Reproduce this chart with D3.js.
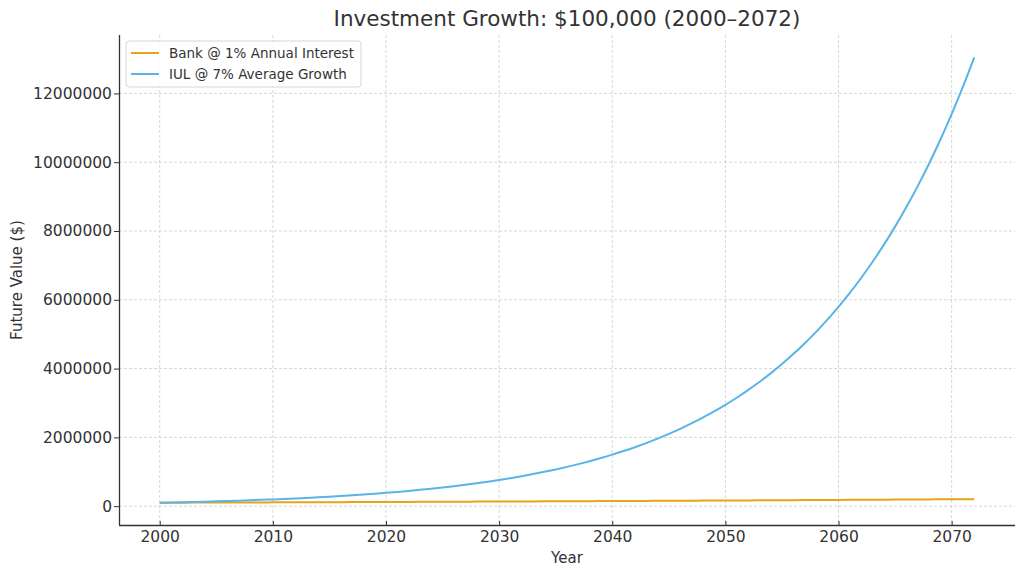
<!DOCTYPE html>
<html>
<head>
<meta charset="utf-8">
<script src="https://cdn.jsdelivr.net/npm/d3@7"></script>
<style>
  html, body { margin: 0; padding: 0; background: #fff; }
  svg { display: block; font-family: "DejaVu Sans", sans-serif; }
  .grid line { stroke: #cccccc; stroke-dasharray: 3,2; stroke-width: 0.8; }
  .axis path, .axis line { stroke: #333; }
</style>
</head>
<body>
<div id="chart"></div>
<script>
const years = [
  2000, 2001, 2002, 2003, 2004, 2005, 2006, 2007, 2008, 2009,
  2010, 2011, 2012, 2013, 2014, 2015, 2016, 2017, 2018, 2019,
  2020, 2021, 2022, 2023, 2024, 2025, 2026, 2027, 2028, 2029,
  2030, 2031, 2032, 2033, 2034, 2035, 2036, 2037, 2038, 2039,
  2040, 2041, 2042, 2043, 2044, 2045, 2046, 2047, 2048, 2049,
  2050, 2051, 2052, 2053, 2054, 2055, 2056, 2057, 2058, 2059,
  2060, 2061, 2062, 2063, 2064, 2065, 2066, 2067, 2068, 2069,
  2070, 2071, 2072
];

// bank account, 1% a year
const bankValues = [
  100000, 101000, 102010, 103030, 104060, 105100, 106150, 107210, 108290, 109370,
  110460, 111570, 112680, 113810, 114950, 116100, 117260, 118430, 119610, 120810,
  122020, 123240, 124470, 125720, 126970, 128240, 129530, 130820, 132130, 133450,
  134780, 136130, 137490, 138870, 140260, 141660, 143080, 144510, 145950, 147410,
  148890, 150380, 151880, 153400, 154930, 156480, 158050, 159630, 161220, 162830,
  164460, 166110, 167770, 169450, 171140, 172850, 174580, 176330, 178090, 179870,
  181670, 183490, 185320, 187170, 189050, 190940, 192850, 194770, 196720, 198690,
  200680, 202680, 204710
];

// IUL, 7% average
const iulValues = [
  100000, 107000, 114490, 122500, 131080, 140260, 150070, 160580, 171820, 183850,
  196720, 210490, 225220, 240980, 257850, 275900, 295220, 315880, 337990, 361650,
  386970, 414060, 443040, 474050, 507240, 542740, 580740, 621390, 664880, 711430,
  761230, 814510, 871530, 932530, 997810, 1067660, 1142390, 1222360, 1307930, 1399480,
  1497450, 1602270, 1714430, 1834440, 1962850, 2100250, 2247260, 2404570, 2572890, 2752990,
  2945700, 3151900, 3372530, 3608610, 3861220, 4131500, 4420710, 4730150, 5061270, 5415550,
  5794640, 6200270, 6634290, 7098690, 7595590, 8127290, 8696200, 9304930, 9956280, 10653220,
  11398940, 12196870, 13050650
];

const series = [
  { name: "Bank @ 1% Annual Interest", values: bankValues, color: "#e8a317" },
  { name: "IUL @ 7% Average Growth", values: iulValues, color: "#5ab4e8" }
];

const xTicks = [2000, 2010, 2020, 2030, 2040, 2050, 2060, 2070];
const yTicks = [0, 2000000, 4000000, 6000000, 8000000, 10000000, 12000000];

const width = 1024;
const height = 577;
const margin = { top: 35, right: 9, bottom: 52, left: 119 };
const innerWidth = width - margin.left - margin.right;
const innerHeight = height - margin.top - margin.bottom;
const tickFont = "15.5px";

// matplotlib-style 5% padding on both axes
const xMin = d3.min(years), xMax = d3.max(years);
const xPad = (xMax - xMin) * 0.05;
const allValues = bankValues.concat(iulValues);
const yMin = d3.min(allValues), yMax = d3.max(allValues);
const yPad = (yMax - yMin) * 0.05;

const x = d3.scaleLinear()
  .domain([xMin - xPad, xMax + xPad])
  .range([0, innerWidth]);
const y = d3.scaleLinear()
  .domain([yMin - yPad, yMax + yPad])
  .range([innerHeight, 0]);

const svg = d3.select("#chart")
  .append("svg")
  .attr("width", width)
  .attr("height", height);

svg.append("text")
  .attr("x", margin.left + innerWidth / 2)
  .attr("y", 26)
  .attr("text-anchor", "middle")
  .attr("fill", "#333")
  .attr("font-size", "21.5px")
  .text("Investment Growth: $100,000 (2000\u20132072)");

const root = svg.append("g")
  .attr("transform", `translate(${margin.left},${margin.top})`);

// grid
root.append("g")
  .attr("class", "grid")
  .selectAll("line")
  .data(xTicks)
  .join("line")
  .attr("x1", (d) => x(d))
  .attr("x2", (d) => x(d))
  .attr("y1", 0)
  .attr("y2", innerHeight);

root.append("g")
  .attr("class", "grid")
  .selectAll("line")
  .data(yTicks)
  .join("line")
  .attr("x1", 0)
  .attr("x2", innerWidth)
  .attr("y1", (d) => y(d))
  .attr("y2", (d) => y(d));

// axes (left and bottom spines only); bottom ticks point inward
const xAxis = root.append("g")
  .attr("class", "axis")
  .attr("transform", `translate(0,${innerHeight})`)
  .call(d3.axisBottom(x).tickValues(xTicks).tickFormat(d3.format("d")).tickSize(-4).tickPadding(8));
xAxis.attr("font-size", null).attr("font-family", null);
xAxis.select(".domain").attr("stroke-width", 1.3).attr("d", `M0,0.5H${innerWidth}`);
xAxis.selectAll("text")
  .attr("y", 6)
  .attr("fill", "#333")
  .style("font-size", tickFont);

const yAxis = root.append("g")
  .attr("class", "axis")
  .call(d3.axisLeft(y).tickValues(yTicks).tickFormat(d3.format("d")).tickSize(5).tickPadding(2));
yAxis.attr("font-size", null).attr("font-family", null);
yAxis.select(".domain").attr("stroke-width", 1.3).attr("d", `M0.5,0V${innerHeight}`);
yAxis.selectAll("text")
  .attr("fill", "#333")
  .style("font-size", tickFont);

svg.append("text")
  .attr("x", margin.left + innerWidth / 2)
  .attr("y", 563)
  .attr("text-anchor", "middle")
  .attr("fill", "#333")
  .attr("font-size", "15px")
  .text("Year");

svg.append("text")
  .attr("transform", `translate(22,${margin.top + innerHeight / 2}) rotate(-90)`)
  .attr("text-anchor", "middle")
  .attr("fill", "#333")
  .attr("font-size", "15px")
  .text("Future Value ($)");

// lines
const line = d3.line()
  .x((d, i) => x(years[i]))
  .y((d) => y(d))
  .curve(d3.curveMonotoneX);

root.append("g")
  .selectAll("path")
  .data(series)
  .join("path")
  .attr("fill", "none")
  .attr("stroke", (d) => d.color)
  .attr("stroke-width", 2)
  .attr("d", (d) => line(d.values));

// legend
const legend = root.append("g").attr("transform", "translate(7,6)");
legend.append("rect")
  .attr("width", 235)
  .attr("height", 46)
  .attr("rx", 3)
  .attr("fill", "#fff")
  .attr("fill-opacity", 0.8)
  .attr("stroke", "#d5d5d5");

const items = legend.selectAll("g")
  .data(series)
  .join("g")
  .attr("transform", (d, i) => `translate(5,${12 + i * 21})`);
items.append("line")
  .attr("x1", 0)
  .attr("x2", 28)
  .attr("stroke", (d) => d.color)
  .attr("stroke-width", 2);
items.append("text")
  .attr("x", 38)
  .attr("dy", "0.35em")
  .attr("fill", "#333")
  .attr("font-size", "13.5px")
  .text((d) => d.name);
</script>
</body>
</html>
